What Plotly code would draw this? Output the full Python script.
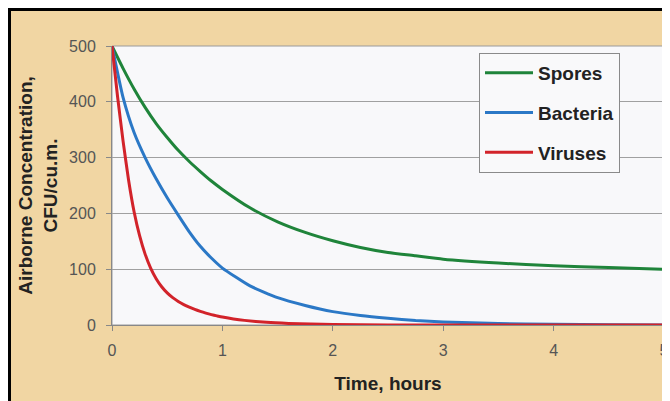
import plotly.graph_objects as go

# Time (hours) and airborne concentration readings (CFU/cu.m.)
spores_t = [0, 0.1, 0.2, 0.3, 0.4, 0.5, 0.6, 0.7, 0.8, 0.9, 1.0, 1.25, 1.5, 1.75, 2.0, 2.25, 2.5, 2.75, 3.0, 3.5, 4.0, 4.5, 5.0]
spores_v = [500, 460, 423, 390, 361, 336, 313, 293, 275, 258, 243, 210, 185, 166, 151, 139, 130, 124, 118, 111, 106, 103, 100]

bacteria_t = [0, 0.1, 0.2, 0.3, 0.4, 0.5, 0.6, 0.7, 0.8, 0.9, 1.0, 1.25, 1.5, 1.75, 2.0, 2.25, 2.5, 2.75, 3.0, 3.5, 4.0, 4.5, 5.0]
bacteria_v = [500, 408, 345, 300, 262, 228, 197, 167, 141, 120, 102, 70, 49, 35, 24, 17, 12, 8, 5.5, 2.5, 1.2, 0.5, 0]

viruses_t = [0, 0.05, 0.1, 0.15, 0.2, 0.25, 0.3, 0.35, 0.4, 0.45, 0.5, 0.55, 0.6, 0.65, 0.7, 0.75, 0.8, 0.85, 0.9, 0.95, 1.0,
             1.1, 1.2, 1.4, 1.6, 1.8, 2.0, 2.5, 3.0, 4.0, 5.0]
viruses_v = [500, 410, 330, 260, 203, 160, 127, 102, 83, 68.6, 57.6, 49, 42.2, 36.6, 31.9, 27.9, 24.4, 21.3, 18.6, 16.3, 14.2,
             10.8, 8.3, 4.8, 2.8, 1.6, 0.9, 0.2, 0, 0, 0]

x_ticks = [0, 1, 2, 3, 4, 5]
y_ticks = [0, 100, 200, 300, 400, 500]

series = [
    ("Spores", spores_t, spores_v, "#1f843a"),
    ("Bacteria", bacteria_t, bacteria_v, "#2b78c6"),
    ("Viruses", viruses_t, viruses_v, "#d2232a"),
]

fig = go.Figure()
for name, t, v, c in series:
    fig.add_trace(go.Scatter(x=t, y=v, name=name, mode="lines",
                             line=dict(color=c, width=3, shape="spline", smoothing=0.5),
                             legendgroup=name))

# the page body adds an 8px offset, so the figure is a little smaller
W, H = 662, 393
L, R, T, B = 104, 6, 38, 76
pw, ph = W - L - R, H - T - B

def px(sx):  # screen x -> paper
    return (sx - 8 - L) / pw

def py(sy):  # screen y -> paper
    return (H - B - (sy - 8)) / ph

fig.update_layout(
    width=W, height=H,
    margin=dict(l=L, r=R, t=T, b=B, pad=0, autoexpand=False),
    paper_bgcolor="white",
    plot_bgcolor="rgba(0,0,0,0)",
    font=dict(family="Liberation Sans, Arial, sans-serif", color="#333"),
    showlegend=True,
    legend=dict(x=px(479), y=py(53), xanchor="left", yanchor="top",
                bgcolor="#f9f9fa", bordercolor="#8a8a8a", borderwidth=1,
                font=dict(size=19, color="#222", weight="bold"), tracegroupgap=12,
                traceorder="grouped", itemwidth=48),
    shapes=[
        dict(type="rect", xref="paper", yref="paper", layer="below",
             x0=px(9.5), x1=px(720), y0=py(430), y1=py(9.5),
             fillcolor="#f1d6a3", line=dict(color="black", width=3)),
        dict(type="rect", xref="paper", yref="paper", layer="below",
             x0=0, x1=1, y0=0, y1=1,
             fillcolor="#f8f8fa", line=dict(color="#9a9a9a", width=1)),
    ],
)

fig.update_xaxes(range=[0, 5], tickvals=x_ticks, ticks="outside", ticklen=5,
                 tickcolor="#888", showgrid=False, zeroline=False, automargin=False,
                 showline=True, linecolor="#888", linewidth=1,
                 tickfont=dict(size=16, color="#555"), ticklabelstandoff=6,
                 title=dict(text="Time, hours", font=dict(size=19, color="#222", weight="bold"),
                            standoff=18))
fig.update_yaxes(range=[0, 500], tickvals=y_ticks, ticks="outside", ticklen=5,
                 tickcolor="#888", showgrid=True, gridcolor="#a0a0a0", gridwidth=1,
                 zeroline=False, showline=True, linecolor="#888", linewidth=1, automargin=False,
                 tickfont=dict(size=16, color="#555"), ticklabelstandoff=7,
                 title=dict(text="Airborne Concentration,<br>CFU/cu.m.",
                            font=dict(size=19, color="#222", weight="bold"), standoff=6))

fig.write_html("out.html")
